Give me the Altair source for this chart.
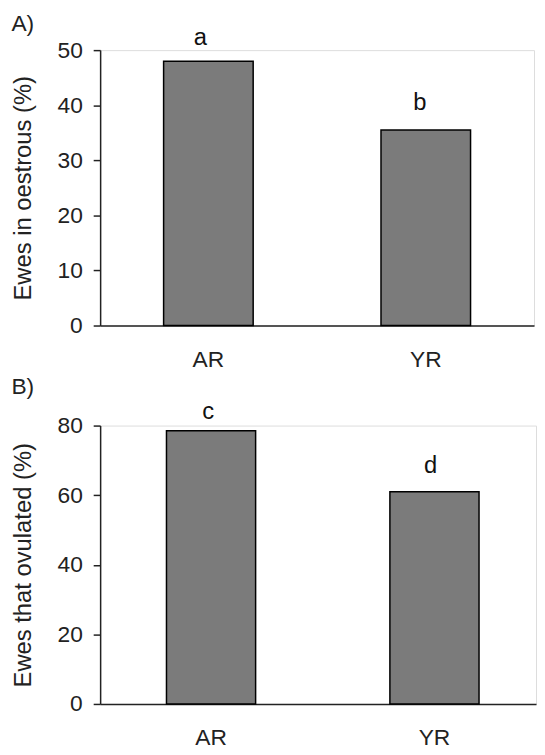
import altair as alt
import pandas as pd

groups = ["AR", "YR"]
oestrous = [48.0, 35.5]
ovulated = [78.5, 61.0]
letters_a = ["a", "b"]
letters_b = ["c", "d"]

FONT = "Liberation Sans"
BAR_FILL = "#7b7b7b"
AXIS_COLOR = "#222222"

df_a = pd.DataFrame({"group": groups, "value": oestrous, "letter": letters_a})
df_b = pd.DataFrame({"group": groups, "value": ovulated, "letter": letters_b})


def panel(df, title, ytitle, ymax, step, width, height, xscale, label_offsets, title_offset):
    x = alt.X("group:N", sort=groups, scale=xscale,
              axis=alt.Axis(title=None, ticks=False, tickSize=0, labelPadding=23,
                            labelAngle=0, labelFontSize=23, labelFont=FONT,
                            labelColor=AXIS_COLOR, domainColor=AXIS_COLOR,
                            domainWidth=1.5))
    y = alt.Y("value:Q", scale=alt.Scale(domain=[0, ymax], nice=False),
              axis=alt.Axis(title=ytitle, values=list(range(0, ymax + 1, step)),
                            grid=False, tickSize=7, tickColor=AXIS_COLOR, tickWidth=1.5,
                            labelPadding=11, labelFontSize=23, labelFont=FONT,
                            labelColor=AXIS_COLOR, titleFont=FONT, titleFontSize=24,
                            titleFontWeight="normal", titleColor=AXIS_COLOR,
                            titlePadding=22, domainColor=AXIS_COLOR, domainWidth=1.5))
    base = alt.Chart(df)
    bars = base.mark_bar(fill=BAR_FILL, stroke="black", strokeWidth=1.5).encode(x=x, y=y)
    layers = [bars]
    for g, (dx, dy) in zip(groups, label_offsets):
        layers.append(
            base.transform_filter(alt.datum.group == g).mark_text(
                font=FONT, fontSize=24, color="#111111", baseline="alphabetic",
                dx=dx, dy=dy, clip=False).encode(x=x, y=y, text="letter:N"))
    return alt.layer(*layers).properties(
        width=width, height=height,
        title=alt.TitleParams(title, anchor="start", frame="bounds", fontSize=23,
                              fontWeight="normal", font=FONT, color=AXIS_COLOR,
                              offset=title_offset))


top = panel(df_a, "A)", "Ewes in oestrous (%)", 50, 10, 438, 278,
            alt.Scale(paddingInner=0.588, paddingOuter=0.292, align=0.5),
            [(-8, -16), (-6, -20)], -10)
bottom = panel(df_b, "B)", "Ewes that ovulated (%)", 80, 20, 440, 281,
               alt.Scale(paddingInner=0.601, paddingOuter=0.276, align=0.538),
               [(-3, -12), (-4, -19)], 1)

chart = alt.vconcat(top, bottom, spacing=3).properties(
    padding={"left": 2, "top": 1, "right": 0, "bottom": 0}
).configure_view(stroke=None).configure(background="white")

chart.save("out.html", embed_options={"renderer": "svg", "actions": False})
